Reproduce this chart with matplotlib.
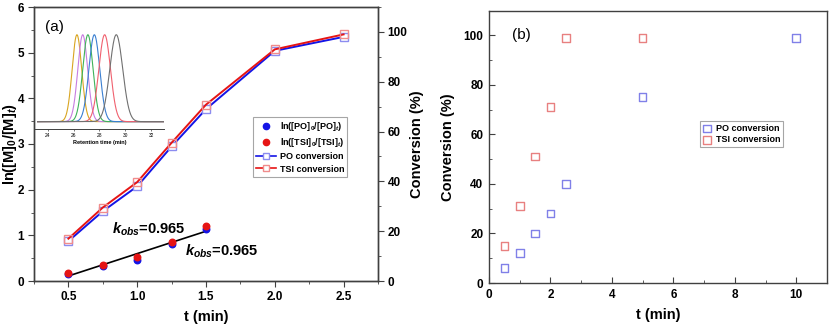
import numpy as np
import matplotlib
matplotlib.use("Agg")
from matplotlib import pyplot as plt
from matplotlib.ticker import MultipleLocator
from matplotlib.lines import Line2D

plt.rcParams['font.family'] = ['Liberation Sans', 'DejaVu Sans']
plt.rcParams['mathtext.fontset'] = 'custom'
plt.rcParams['mathtext.rm'] = 'Liberation Sans:bold'
plt.rcParams['mathtext.it'] = 'Liberation Sans:bold:italic'
plt.rcParams['mathtext.bf'] = 'Liberation Sans:bold'

# panel (a): kinetics
t_a = [0.5, 0.75, 1.0, 1.25, 1.5, 2.0, 2.5]
po_conv_a = [16, 28, 38, 54, 69, 92.4, 98]
tsi_conv_a = [17, 29.5, 39.7, 55.5, 70.8, 93, 99]
t_ln = [0.5, 0.75, 1.0, 1.25, 1.5]
ln_po = [0.15, 0.32, 0.47, 0.80, 1.14]
ln_tsi = [0.18, 0.34, 0.52, 0.85, 1.20]
fit_t = [0.5, 1.5]
fit_y = [0.11, 1.09]

# inset GPC traces: peak centre (min), width (min), colour
gpc_centre = [26.25, 26.7, 27.1, 27.6, 28.4, 29.3]
gpc_width = [0.37, 0.38, 0.40, 0.42, 0.45, 0.50]
gpc_color = ['#d9a521', '#c77de0', '#3fb35a', '#3a7fd1', '#f0606e', '#707070']

# panel (b): conversion vs time
t_po_b = [0.5, 1, 1.5, 2, 2.5, 5, 10]
po_conv_b = [6, 12, 20, 28, 40, 75, 99]
t_tsi_b = [0.5, 1, 1.5, 2, 2.5, 5]
tsi_conv_b = [15, 31, 51, 71, 99, 99]

fig = plt.figure(figsize=(8.31, 3.29), dpi=100)
spine_c = '#404040'
tick_fs = 8.5
lab_fs = 10.5

# ---------- (a) ----------
ax = fig.add_axes([34/831, 1-281/329, 344/831, 274/329])
ax2 = ax.twinx()
ax.set_zorder(2)
ax.patch.set_visible(False)

ax.scatter(t_ln, ln_po, s=22, color='#1414e6', zorder=3)
ax.scatter(t_ln, ln_tsi, s=22, color='#e61414', zorder=3)
ax.plot(fit_t, fit_y, color='black', lw=1.2, zorder=2)
ax.text(0.82, 1.14, r'$k_{obs}$=0.965', fontsize=10.5, fontweight='bold', va='center')
ax.text(1.35, 0.64, r'$k_{obs}$=0.965', fontsize=10.5, fontweight='bold', va='center')

ax2.plot(t_a, po_conv_a, color='#1414e6', lw=1.4, marker='s', ms=6,
         mfc='white', mec='#8c8cf0', mew=1)
ax2.plot(t_a, tsi_conv_a, color='#e61414', lw=1.4, marker='s', ms=6,
         mfc='none', mec='#f08c8c', mew=1)

ax.set_xlim(0.25, 2.75)
ax.set_ylim(0, 6)
ax2.set_ylim(0, 110)
ax.xaxis.set_major_locator(MultipleLocator(0.5))
ax.xaxis.set_minor_locator(MultipleLocator(0.25))
ax.yaxis.set_major_locator(MultipleLocator(1))
ax.yaxis.set_minor_locator(MultipleLocator(0.5))
ax2.yaxis.set_major_locator(MultipleLocator(20))
ax2.yaxis.set_minor_locator(MultipleLocator(10))
for a in (ax, ax2):
    a.tick_params(which='both', direction='out', color=spine_c, labelsize=tick_fs)
    a.tick_params(which='major', length=4, pad=3)
    a.tick_params(which='minor', length=2.5)
    for s in a.spines.values():
        s.set_color(spine_c)
        s.set_linewidth(1)
    for lbl in a.get_xticklabels() + a.get_yticklabels():
        lbl.set_fontweight('bold')
ax.set_xlabel('t (min)', fontsize=lab_fs, fontweight='bold', labelpad=5)
ax.set_ylabel(r'ln([M]$_0$/[M]$_t$)', fontsize=lab_fs, fontweight='bold', labelpad=-1)
ax2.set_ylabel('Conversion (%)', fontsize=lab_fs, fontweight='bold', labelpad=2)
ax.text(0.33, 5.47, '(a)', fontsize=11)

handles = [
    Line2D([], [], ls='none', marker='o', ms=4.5, color='#1414e6'),
    Line2D([], [], ls='none', marker='o', ms=4.5, color='#e61414'),
    Line2D([], [], color='#1414e6', lw=1.2, marker='s', ms=5, mfc='white', mec='#8c8cf0'),
    Line2D([], [], color='#e61414', lw=1.2, marker='s', ms=5, mfc='white', mec='#f08c8c'),
]
labels = [r'ln([PO]$_0$/[PO]$_t$)', r'ln([TSI]$_0$/[TSI]$_t$)', 'PO conversion', 'TSI conversion']
leg = ax.legend(handles, labels, loc='upper left', bbox_to_anchor=(253/831, 1-117/329),
                bbox_transform=fig.transFigure, prop={'weight': 'bold', 'size': 6.5},
                frameon=True, fancybox=False, edgecolor='#909090', handlelength=2.2,
                borderpad=0.35, labelspacing=0.35, handletextpad=0.4, borderaxespad=0)
leg.get_frame().set_linewidth(0.8)

# inset
ins = fig.add_axes([35/831, 1-129/329, 129/831, 96/329])
ins.patch.set_visible(False)
rt = np.linspace(23.2, 33, 400)
for c, w, col in zip(gpc_centre, gpc_width, gpc_color):
    ins.plot(rt, np.exp(-0.5*((rt-c)/w)**2), color=col, lw=0.8)
ins.set_xlim(23, 33)
ins.set_ylim(-0.085, 1.02)
ins.set_xticks([24, 26, 28, 30, 32])
ins.set_yticks([])
for k in ('left', 'top', 'right'):
    ins.spines[k].set_visible(False)
ins.spines['bottom'].set_color(spine_c)
ins.spines['bottom'].set_linewidth(0.7)
ins.tick_params(axis='x', labelsize=3.5, length=1.5, width=0.5, pad=1.5, color=spine_c)
ins.set_xlabel('Retention time (min)', fontsize=4, fontweight='bold', labelpad=1.5)

# ---------- (b) ----------
bx = fig.add_axes([489/831, 1-283/329, 338/831, 272.5/329])
bx.scatter(t_po_b, po_conv_b, marker='s', s=30, facecolors='none',
           edgecolors='#8080e8', linewidths=1, label='PO conversion')
bx.scatter(t_tsi_b, tsi_conv_b, marker='s', s=30, facecolors='none',
           edgecolors='#e88080', linewidths=1, label='TSI conversion')
bx.set_xlim(0, 11)
bx.set_ylim(0, 110)
bx.xaxis.set_major_locator(MultipleLocator(2))
bx.xaxis.set_minor_locator(MultipleLocator(1))
bx.yaxis.set_major_locator(MultipleLocator(20))
bx.yaxis.set_minor_locator(MultipleLocator(10))
bx.tick_params(which='both', direction='in', color=spine_c, labelsize=tick_fs)
bx.tick_params(which='major', length=4, pad=4)
bx.tick_params(which='minor', length=2.5)
for s in bx.spines.values():
    s.set_color(spine_c)
    s.set_linewidth(1)
for lbl in bx.get_xticklabels() + bx.get_yticklabels():
    lbl.set_fontweight('bold')
bx.set_xlabel('t (min)', fontsize=lab_fs, fontweight='bold', labelpad=5)
bx.set_ylabel('Conversion (%)', fontsize=lab_fs, fontweight='bold', labelpad=6)
bx.text(0.75, 100, '(b)', fontsize=11, va='center')
legb = bx.legend(loc='upper left', bbox_to_anchor=(700/831, 1-121/329),
                 bbox_transform=fig.transFigure, prop={'weight': 'bold', 'size': 6.5},
                 frameon=True, fancybox=False, edgecolor='#909090', handlelength=1.0,
                 borderpad=0.3, labelspacing=0.3, handletextpad=0.5, borderaxespad=0,
                 scatterpoints=1)
legb.get_frame().set_linewidth(0.8)

fig.savefig('out.png', dpi=100)
